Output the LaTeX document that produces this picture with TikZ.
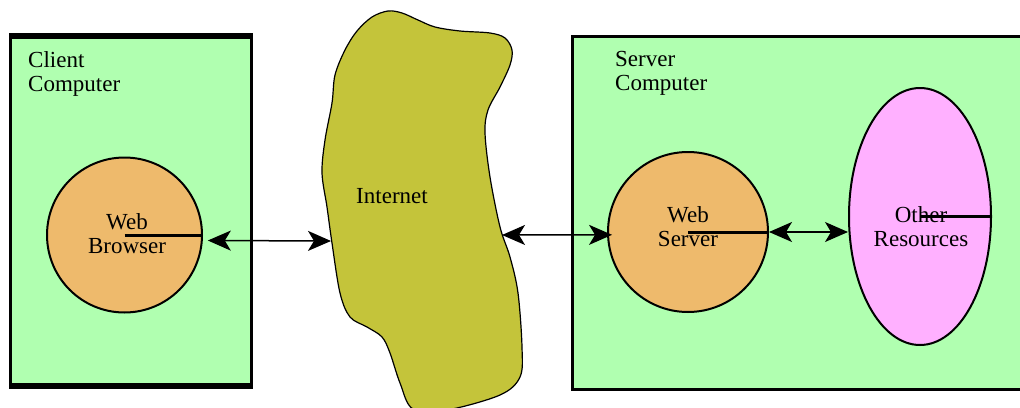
\documentclass[tikz,border=0pt]{standalone}
\usepackage{fontspec}
\setmainfont{Liberation Serif}
\usetikzlibrary{arrows.meta,shapes.geometric}
\definecolor{hostgreen}{RGB}{176,255,176}
\definecolor{procorange}{RGB}{238,186,108}
\definecolor{respink}{RGB}{255,176,255}
\definecolor{netolive}{RGB}{196,196,58}

\begin{document}
\begin{tikzpicture}[x=1pt,y=-1pt,
  lbl/.style={font=\fontsize{23}{24}\selectfont, inner sep=0pt},
  proc/.style={circle, draw, line width=2pt, fill=procorange, inner sep=0pt},
  res/.style={ellipse, draw, line width=2pt, fill=respink, inner sep=0pt},
  spoke/.style={line width=3pt},
  link/.style={line width=1.5pt,
    {Stealth[length=23pt,width=20pt,inset=6pt]}-{Stealth[length=23pt,width=20pt,inset=6pt]}},
]
\useasboundingbox (0,0) rectangle (1020,407);

% client computer
\fill[hostgreen] (10.5,36) rectangle (251.5,386);
\draw[line width=3pt] (10.5,33) -- (10.5,389) (251.5,33) -- (251.5,389);
\draw[line width=6pt] (9,36) -- (253,36) (9,386) -- (253,386);
\node[lbl, anchor=north west, align=left] (clientlbl) at (28,51.5) {Client\\Computer};

% server computer
\filldraw[fill=hostgreen, line width=3pt] (1030,36.5) -- (572.5,36.5) -- (572.5,389) -- (1030,389);
\node[lbl, anchor=north west, align=left] (serverlbl) at (615,51.5) {Server\\Computer};

% internet cloud
\filldraw[fill=netolive, line width=1.2pt] plot[smooth cycle, tension=0.55] coordinates {
  (372,17) (357,31) (345,50) (335,75) (332,103) (325,140) (322,173) (327,207)
  (332,243) (340,293) (350,317) (367,327) (382,337) (390,353) (400,383) (413,409)
  (447,410) (500,395) (520,377) (522,347) (518,293) (510,257) (500,227) (490,177)
  (485,133) (488,110) (500,87) (510,65) (512,50) (505,38) (490,33) (460,31)
  (435,27) (418,20) (402,13) (388,11)};
\node[lbl, anchor=base] (netlbl) at (392,203) {Internet};
\coordinate (netW) at (331,241);
\coordinate (netE) at (502,235);

% processes and resources
\node[proc, minimum size=155pt] (browser) at (124.5,235) {};
\node[proc, minimum size=160pt] (websrv) at (688,232) {};
\node[res, minimum width=142pt, minimum height=257pt] (other) at (920,216.5) {};

\node[lbl, anchor=north, align=center] (browserlbl) at (127,213) {Web\\Browser};
\node[lbl, anchor=north, align=center] (websrvlbl) at (688,206.5) {Web\\Server};
\node[lbl, anchor=north, align=center] (otherlbl) at (921,206) {Other\\Resources};

\draw[spoke] (browser.center) -- (browser.east);
\draw[spoke] (websrv.center) -- (websrv.east);
\draw[spoke] (other.center) -- (other.east);

% connections
\draw[link, shorten <=5pt] (browser.-4.4) -- (netW);
\draw[link, shorten >=-5pt] (netE) -- (websrv.182);
\draw[link] (websrv.east) -- (websrv.east -| other.west);
\end{tikzpicture}
\end{document}
